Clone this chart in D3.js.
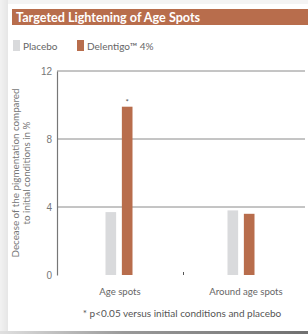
<!DOCTYPE html>
<html>
<head>
<meta charset="utf-8">
<script src="https://cdn.jsdelivr.net/npm/d3@7"></script>
<style>
  body { margin: 0; background: #ffffff; }
  svg { display: block; font-family: "Lato", "Open Sans", sans-serif; }
</style>
</head>
<body>
<div id="chart"></div>
<script>
const groups = ["Age spots", "Around age spots"];
const seriesNames = ["Placebo", "Delentigo\u2122 4%"];
const placebo = [3.7, 3.8];
const delentigo = [9.9, 3.6];
const yTicks = [0, 4, 8, 12];
const colors = ["#d9dadc", "#b86d4c"];

const width = 308, height = 334;
const svg = d3.select("#chart").append("svg")
    .attr("width", width)
    .attr("height", height);

// card background + shadows
const lg = svg.append("defs").append("linearGradient").attr("id", "lside");
lg.append("stop").attr("offset", "0%").attr("stop-color", "#f2f2f2");
lg.append("stop").attr("offset", "100%").attr("stop-color", "#e6e6e6");
svg.append("rect").attr("x", 0).attr("y", 0).attr("width", width).attr("height", height).attr("fill", "#f4f4f4");
svg.append("rect").attr("x", 0).attr("y", 0).attr("width", 8).attr("height", 332).attr("fill", "url(#lside)");
svg.append("rect").attr("x", 8).attr("y", 4).attr("width", 300).attr("height", 328).attr("fill", "#ffffff");
const bg = svg.append("defs").append("linearGradient").attr("id", "bshadow");
bg.append("stop").attr("offset", "0%").attr("stop-color", "#e0e0e0");
bg.append("stop").attr("offset", "40%").attr("stop-color", "#9a9a9a");
bg.append("stop").attr("offset", "100%").attr("stop-color", "#707070");
svg.append("rect").attr("x", 0).attr("y", 331).attr("width", width).attr("height", 3).attr("fill", "url(#bshadow)");

// title bar
svg.append("rect").attr("x", 12).attr("y", 9).attr("width", 296).attr("height", 16).attr("fill", "#b86d4c");
svg.append("text").attr("x", 16).attr("y", 21.5)
    .attr("fill", "#ffffff").style("font-size", "12.6px").style("font-weight", "bold")
    .text("Targeted Lightening of Age Spots");

// legend
const legendX = [13, 77];
const legend = svg.append("g");
legend.selectAll("rect")
    .data(seriesNames)
    .enter()
    .append("rect")
    .attr("x", (d, i) => legendX[i])
    .attr("y", 40)
    .attr("width", 7)
    .attr("height", 11)
    .attr("fill", (d, i) => colors[i]);
legend.selectAll("text")
    .data(seriesNames)
    .enter()
    .append("text")
    .attr("x", (d, i) => legendX[i] + 10)
    .attr("y", 49.5)
    .attr("fill", "#666")
    .style("font-size", "10px")
    .text(d => d);

// scales
const y = d3.scaleLinear().domain([0, 12]).range([275, 71]);
const x0 = d3.scalePoint().domain(groups).range([119, 241]);
const x1 = d3.scaleBand().domain(seriesNames).range([-13.5, 13.5]).paddingInner(0.35);

// gridlines
svg.append("g").selectAll("line")
    .data(yTicks.filter(t => t > 0))
    .enter()
    .append("line")
    .attr("x1", 57).attr("x2", 305)
    .attr("y1", d => y(d)).attr("y2", d => y(d))
    .attr("stroke", "#8a8a8a").attr("stroke-width", 1);

// y axis
const yAxis = svg.append("g")
    .attr("transform", "translate(57,0)")
    .call(d3.axisLeft(y).tickValues(yTicks).tickSize(0).tickPadding(5));
yAxis.select(".domain").attr("stroke", "#777").attr("stroke-width", 1.2);
yAxis.selectAll("text").attr("fill", "#777").style("font-size", "10px");

// y label
const yl = svg.append("text")
    .attr("transform", "translate(21,173) rotate(-90)")
    .attr("text-anchor", "middle")
    .attr("fill", "#777")
    .style("font-size", "9.8px");
yl.append("tspan").attr("x", 0).attr("dy", "-0.25em").text("Decease of the pigmentation compared");
yl.append("tspan").attr("x", 0).attr("dy", "1.2em").text("to initial conditions in %");

// bars
const rows = groups.map((g, i) => ({ group: g, values: [placebo[i], delentigo[i]] }));
const barG = svg.append("g").selectAll("g")
    .data(rows)
    .enter()
    .append("g")
    .attr("transform", d => "translate(" + x0(d.group) + ",0)");
barG.selectAll("rect")
    .data(d => d.values.map((v, i) => ({ v, i })))
    .enter()
    .append("rect")
    .attr("x", d => x1(seriesNames[d.i]))
    .attr("y", d => y(d.v))
    .attr("width", x1.bandwidth())
    .attr("height", d => y(0) - y(d.v))
    .attr("fill", d => colors[d.i]);

// significance marker
svg.append("text")
    .attr("x", x0(groups[0]) + x1(seriesNames[1]) + x1.bandwidth() / 2)
    .attr("y", y(delentigo[0]) - 2)
    .attr("text-anchor", "middle")
    .attr("fill", "#555")
    .style("font-size", "8px")
    .text("*");

// small separator tick
svg.append("line")
    .attr("x1", 183.5).attr("x2", 183.5)
    .attr("y1", y(0) - 3).attr("y2", y(0))
    .attr("stroke", "#555").attr("stroke-width", 1);

// group labels
svg.append("g").selectAll("text")
    .data(groups)
    .enter()
    .append("text")
    .attr("x", (d, i) => x0(d) + [1, 5][i])
    .attr("y", 295)
    .attr("text-anchor", "middle")
    .attr("fill", "#666")
    .style("font-size", "9.6px")
    .text(d => d);

// footnote
svg.append("text")
    .attr("x", 182)
    .attr("y", 317)
    .attr("text-anchor", "middle")
    .attr("fill", "#555")
    .style("font-size", "10px")
    .text("* p<0.05 versus initial conditions and placebo");
</script>
</body>
</html>
